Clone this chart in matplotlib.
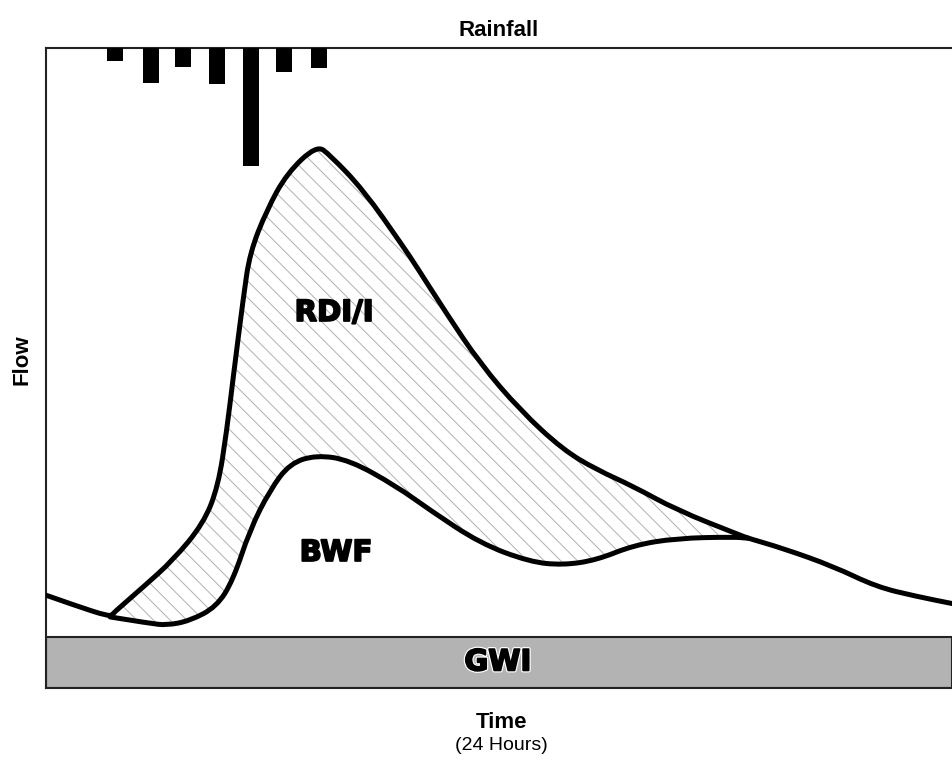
import numpy as np
import matplotlib
matplotlib.use('Agg')
import matplotlib.pyplot as plt
import matplotlib.patheffects as pe
from matplotlib.path import Path
from matplotlib.patches import PathPatch

# rainfall hyetograph (hours, depth)
rain_hours = [1.82, 2.78, 3.62, 4.53, 5.44, 6.31, 7.23]
rain_depth = [2.0, 5.4, 2.9, 5.6, 18.5, 3.7, 3.2]

# dry weather flow before the storm
base_hours = [0.0, 0.72, 1.70]
base_flow = [14.5, 13.0, 11.1]

# total flow hydrograph
total_hours = [1.70, 1.78, 2.58, 3.37, 4.17, 4.56, 4.79, 4.96, 5.23, 5.40, 5.85, 6.38,
               7.17, 7.52, 8.41, 9.46, 9.82, 10.61, 11.50, 12.56, 13.70, 14.59, 15.56,
               16.71, 18.38, 18.60, 19.53, 20.86, 22.00, 23.07, 24.0]
total_flow = [11.1, 11.7, 15.8, 20.0, 25.7, 31.5, 40.3, 48.6, 61.1, 68.0, 74.7, 80.4,
              84.8, 83.3, 77.8, 69.0, 65.8, 58.5, 50.7, 43.4, 37.2, 34.1, 31.5,
              27.8, 23.9, 23.4, 21.8, 19.0, 15.8, 14.3, 13.2]

# base wastewater flow curve
bwf_hours = [1.70, 2.75, 3.20, 3.81, 4.52, 4.96, 5.40, 5.93, 6.46, 7.17, 8.05, 9.29,
             10.17, 11.50, 12.82, 13.70, 14.59, 15.56, 16.71, 18.21, 18.60]
bwf_flow = [11.1, 10.1, 9.8, 10.5, 12.7, 16.9, 24.7, 30.9, 35.1, 36.4, 35.6, 31.5,
            27.8, 22.6, 19.7, 19.2, 20.0, 22.3, 23.4, 23.6, 23.4]

gwi_level = 8.0


def smooth_path(xs, ys, closed=False):
    # quadratic bezier through midpoints, read points act as control points
    pts = np.column_stack([xs, ys])
    verts = [pts[0]]
    codes = [Path.MOVETO]
    for i in range(1, len(pts) - 1):
        verts += [pts[i], (pts[i] + pts[i + 1]) / 2]
        codes += [Path.CURVE3, Path.CURVE3]
    verts.append(pts[-1])
    codes.append(Path.LINETO)
    if closed:
        verts.append(pts[0])
        codes.append(Path.CLOSEPOLY)
    return Path(verts, codes)


plt.rcParams['font.family'] = ['Liberation Sans', 'DejaVu Sans']
plt.rcParams['hatch.linewidth'] = 0.7

fig = plt.figure(figsize=(9.52, 7.68), dpi=100)
ax = fig.add_axes([46 / 952, 80 / 768, 906 / 952, 640 / 768])
ax.set_xlim(0, 24)
ax.set_ylim(0, 100)

# GWI band
ax.axhspan(0, gwi_level, facecolor='#b3b3b3', edgecolor='#222222', linewidth=1.5, zorder=2)

# RDI/I area between total flow and BWF
merge = bwf_hours[-1]
th = np.array(total_hours)
tf = np.array(total_flow)
keep = th <= merge
upper = smooth_path(th[keep], tf[keep])
lower = smooth_path(bwf_hours[::-1], bwf_flow[::-1])
area = Path(np.concatenate([upper.vertices, lower.vertices[1:]]),
            np.concatenate([upper.codes, lower.codes[1:]]))
ax.add_patch(PathPatch(area, facecolor='white', edgecolor='#b0b0b0', hatch='\\\\',
                       linewidth=0, zorder=1))

line_kw = dict(facecolor='none', edgecolor='black', linewidth=3.6,
               joinstyle='round', capstyle='round', zorder=3)
ax.add_patch(PathPatch(smooth_path(np.concatenate([base_hours, total_hours[1:]]),
                                   np.concatenate([base_flow, total_flow[1:]])), **line_kw))
ax.add_patch(PathPatch(smooth_path(bwf_hours, bwf_flow), **line_kw))

# rainfall on an inverted twin axis
ax2 = ax.twinx()
ax2.set_ylim(100, 0)
ax2.bar(rain_hours, rain_depth, width=0.42, color='black', align='center', zorder=4)
ax2.set_yticks([])
for s in ax2.spines.values():
    s.set_visible(False)

# labels inside the plot (stroke makes the bold look heavier)
heavy = dict(family='DejaVu Sans', fontweight='bold', fontsize=21, ha='center', va='center')
thick = [pe.withStroke(linewidth=1.3, foreground='black')]
ax.text(7.63, 58.6, 'RDI/I', zorder=5, path_effects=thick, **heavy)
ax.text(7.68, 21.1, 'BWF', zorder=5, path_effects=thick, **heavy)
ax.text(11.97, 4.0, 'GWI', zorder=5,
        path_effects=[pe.withStroke(linewidth=3, foreground='white'),
                      pe.withStroke(linewidth=1.3, foreground='black')], **heavy)

ax.set_xticks([])
ax.set_yticks([])
for side in ['left', 'top', 'bottom']:
    ax.spines[side].set_linewidth(1.5)
    ax.spines[side].set_color('#222222')
ax.spines['right'].set_visible(False)

fig.text(499 / 952, 1 - 30 / 768, 'Rainfall', fontsize=16, fontweight='bold',
         ha='center', va='center')
fig.text(22 / 952, 1 - 360 / 768, 'Flow', fontsize=16, fontweight='bold',
         rotation=90, ha='center', va='center')
fig.text(501 / 952, 1 - 722 / 768, 'Time', fontsize=16, fontweight='bold',
         ha='center', va='center')
fig.text(501 / 952, 1 - 745 / 768, '(24 Hours)', fontsize=14,
         ha='center', va='center')

fig.savefig('out.png', dpi=100)
